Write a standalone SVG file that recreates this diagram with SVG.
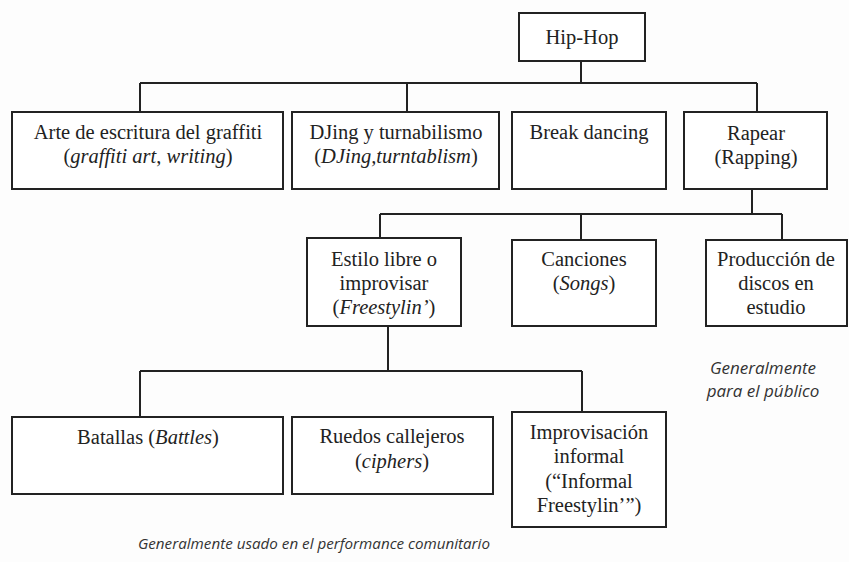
<svg xmlns="http://www.w3.org/2000/svg" width="849" height="562" viewBox="0 0 849 562">
<style>
.box{fill:#fff;stroke:#222;stroke-width:2}
.c{fill:none;stroke:#222;stroke-width:2}
.t{font-family:'Liberation Serif','DejaVu Serif',serif;font-size:20.5px;fill:#222;text-anchor:middle}
.n{font-family:'Open Sans','Liberation Sans',sans-serif;font-style:italic;fill:#333;text-anchor:middle}
</style>
<rect width="849" height="562" fill="#fdfdfd"/>
<g id="connectors">
<path class="c" d="M581,61V83M140,83H757M140,83V112M407,83V112M757,83V112"/>
<path class="c" d="M752,189V214M380,214H782M380,214V238M581,214V240M782,214V240"/>
<path class="c" d="M388,326V371M140,371H582M140,371V417M582,371V412"/>
</g>
<g id="hiphop"><rect class="box" x="519" y="13" width="126" height="48"/><text class="t" x="582" y="44">Hip-Hop</text></g>
<g id="arte"><rect class="box" x="12" y="112" width="271" height="77"/><text class="t" x="148" y="139">Arte de escritura del graffiti</text><text class="t" x="148" y="163">(<tspan font-style="italic">graffiti art</tspan>, <tspan font-style="italic">writing</tspan>)</text></g>
<g id="djing"><rect class="box" x="292" y="112" width="207" height="77"/><text class="t" x="396" y="139">DJing y turnabilismo</text><text class="t" x="396" y="163">(<tspan font-style="italic">DJing,turntablism</tspan>)</text></g>
<g id="break"><rect class="box" x="512" y="112" width="154" height="77"/><text class="t" x="589" y="139">Break dancing</text></g>
<g id="rapear"><rect class="box" x="684" y="112" width="143" height="77"/><text class="t" x="756" y="140">Rapear</text><text class="t" x="756" y="164">(Rapping)</text></g>
<g id="estilo"><rect class="box" x="307" y="238" width="154" height="88"/><text class="t" x="384" y="266">Estilo libre o</text><text class="t" x="384" y="290">improvisar</text><text class="t" x="384" y="314">(<tspan font-style="italic">Freestylin’</tspan>)</text></g>
<g id="canciones"><rect class="box" x="512" y="240" width="144" height="86"/><text class="t" x="584" y="266">Canciones</text><text class="t" x="584" y="290">(<tspan font-style="italic">Songs</tspan>)</text></g>
<g id="produccion"><rect class="box" x="706" y="240" width="141" height="86"/><text class="t" x="776" y="266">Producción de</text><text class="t" x="776" y="290">discos en</text><text class="t" x="776" y="314">estudio</text></g>
<g id="batallas"><rect class="box" x="12" y="417" width="271" height="77"/><text class="t" x="148" y="444">Batallas (<tspan font-style="italic">Battles</tspan>)</text></g>
<g id="ruedos"><rect class="box" x="292" y="417" width="201" height="77"/><text class="t" x="392" y="443">Ruedos callejeros</text><text class="t" x="392" y="468">(<tspan font-style="italic">ciphers</tspan>)</text></g>
<g id="informal"><rect class="box" x="512" y="412" width="154" height="115"/><text class="t" x="589" y="439">Improvisación</text><text class="t" x="589" y="463">informal</text><text class="t" x="589" y="488">(“Informal</text><text class="t" x="589" y="512">Freestylin’”)</text></g>
<text class="n" x="763" y="374" font-size="17">Generalmente</text>
<text class="n" x="763" y="397" font-size="17">para el público</text>
<text class="n" x="314" y="549" font-size="15.2">Generalmente usado en el performance comunitario</text>
</svg>
